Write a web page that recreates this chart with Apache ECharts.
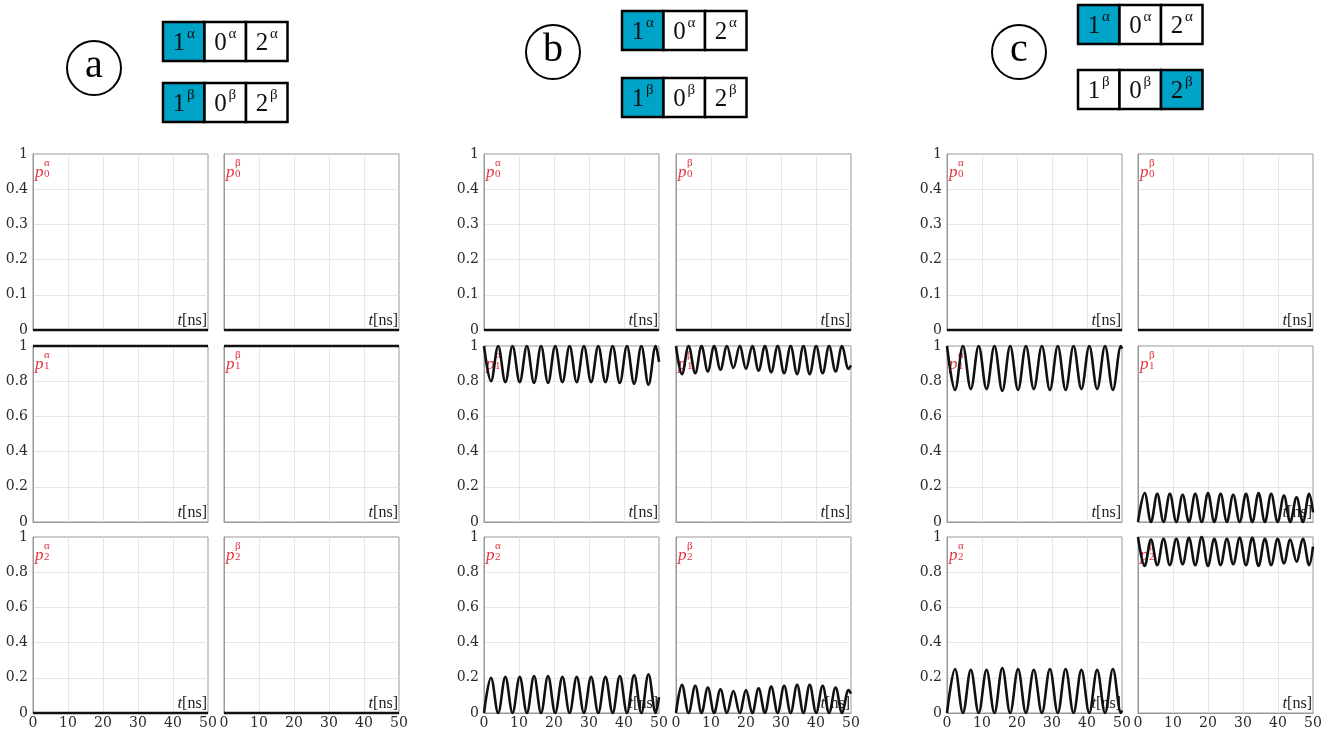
<!DOCTYPE html>
<html><head><meta charset="utf-8">
<script src="https://cdn.jsdelivr.net/npm/echarts@6/dist/echarts.min.js"></script>
<style>html,body{margin:0;padding:0;background:#fff}#c{width:1340px;height:736px}</style>
</head><body><div id="c"></div>
<script>
// ---- tick labels ----
const timeTicks = ['0','10','20','30','40','50'];
const row1Ticks = ['0','0.1','0.2','0.3','0.4','1'];
const rowTicks  = ['0','0.2','0.4','0.6','0.8','1'];

// ---- series data: [t (ns), probability] at extrema ----
const flatZero = [[0,0],[50,0]];
const flatOne  = [[0,1],[50,1]];

const b_p1a = [[0,1],[2.0,0.80],[4.05,1],[6.1,0.795],[8.15,1],[10.2,0.795],[12.25,1],[14.3,0.79],[16.3,1],[18.3,0.79],[20.35,1],[22.4,0.795],[24.45,1],[26.5,0.795],[28.55,1],[30.6,0.795],[32.65,1],[34.7,0.795],[36.75,1],[38.8,0.79],[40.85,1],[42.9,0.785],[44.95,1],[47.0,0.78],[49.05,1],[50,0.91]];
const b_p2a = [[0,0],[2.0,0.20],[4.05,0],[6.1,0.205],[8.15,0],[10.2,0.205],[12.25,0],[14.3,0.21],[16.3,0],[18.3,0.21],[20.35,0],[22.4,0.205],[24.45,0],[26.5,0.205],[28.55,0],[30.6,0.205],[32.65,0],[34.7,0.205],[36.75,0],[38.8,0.21],[40.85,0],[42.9,0.215],[44.95,0],[47.0,0.22],[49.05,0],[50,0.09]];
const b_p1b = [[0,1],[1.7,0.84],[3.6,1],[5.5,0.845],[7.3,1],[9.1,0.855],[10.9,1],[12.7,0.865],[14.55,1],[16.4,0.875],[18.2,1],[20.0,0.87],[21.8,1],[23.6,0.86],[25.4,1],[27.2,0.85],[29.05,1],[30.9,0.845],[32.75,1],[34.6,0.84],[36.4,1],[38.2,0.84],[40.05,1],[41.9,0.845],[43.75,1],[45.6,0.855],[47.45,1],[49.3,0.87],[50,0.89]];
const b_p2b = [[0,0],[1.7,0.16],[3.6,0],[5.5,0.155],[7.3,0],[9.1,0.145],[10.9,0],[12.7,0.135],[14.55,0],[16.4,0.125],[18.2,0],[20.0,0.13],[21.8,0],[23.6,0.14],[25.4,0],[27.2,0.15],[29.05,0],[30.9,0.155],[32.75,0],[34.6,0.16],[36.4,0],[38.2,0.16],[40.05,0],[41.9,0.155],[43.75,0],[45.6,0.145],[47.45,0],[49.3,0.13],[50,0.11]];

const c_p1a = [[0,1],[2.3,0.75],[4.55,1],[6.8,0.755],[9.05,1],[11.3,0.755],[13.55,1],[15.8,0.745],[18.05,1],[20.3,0.75],[22.55,1],[24.8,0.755],[27.1,1],[29.4,0.75],[31.65,1],[33.9,0.75],[36.15,1],[38.4,0.755],[40.65,1],[42.9,0.755],[45.15,1],[47.4,0.75],[49.7,1],[50,0.985]];
const c_p2a = [[0,0],[2.3,0.25],[4.55,0],[6.8,0.245],[9.05,0],[11.3,0.245],[13.55,0],[15.8,0.255],[18.05,0],[20.3,0.25],[22.55,0],[24.8,0.245],[27.1,0],[29.4,0.25],[31.65,0],[33.9,0.25],[36.15,0],[38.4,0.245],[40.65,0],[42.9,0.245],[45.15,0],[47.4,0.25],[49.7,0],[50,0.015]];
const c_p1b = [[0,0],[1.9,0.165],[3.7,0],[5.5,0.16],[7.3,0],[9.1,0.16],[10.95,0],[12.75,0.155],[14.55,0],[16.35,0.16],[18.2,0],[20.0,0.165],[21.8,0],[23.6,0.16],[25.4,0],[27.2,0.155],[29.05,0],[30.85,0.16],[32.65,0],[34.45,0.165],[36.25,0],[38.05,0.16],[39.9,0],[41.7,0.15],[43.5,0],[45.3,0.14],[47.1,0],[48.9,0.16],[50,0.055]];
const c_p2b = [[0,1],[1.9,0.835],[3.7,0.985],[5.5,0.84],[7.3,0.99],[9.1,0.84],[10.95,0.99],[12.75,0.845],[14.55,0.995],[16.35,0.84],[18.2,1],[20.0,0.835],[21.8,0.99],[23.6,0.84],[25.4,0.99],[27.2,0.845],[29.05,0.995],[30.85,0.84],[32.65,0.995],[34.45,0.835],[36.25,0.99],[38.05,0.84],[39.9,0.99],[41.7,0.85],[43.5,0.985],[45.3,0.86],[47.1,0.99],[48.9,0.84],[50,0.945]];

// panel data: [group][row][side]
const panelData = [
  [[flatZero, flatZero], [flatOne, flatOne], [flatZero, flatZero]],
  [[flatZero, flatZero], [b_p1a, b_p1b], [b_p2a, b_p2b]],
  [[flatZero, flatZero], [c_p1a, c_p1b], [c_p2a, c_p2b]]
];
// occupation boxes: labels & which are filled
const boxDigits = ['1','0','2'];
const boxFilled = [
  [[true,false,false],[true,false,false]],
  [[true,false,false],[true,false,false]],
  [[true,false,false],[false,false,true]]
];
const groupLetters = ['a','b','c'];
const spinLetters = ['α','β'];

// ---- layout ----
const colLeft = [33, 224, 484, 676, 947, 1138];
const panelW = 175, panelH = 176;
const rowTop = [154, 346, 537];
const boxOrigin = [[163,22,83],[622,11,78],[1078,5,70]]; // x, top-row y, bottom-row y
const circles = [[94,68],[553,52],[1019,52]];
const boxW = 41.5, boxH = 39;

const serif = '"DejaVu Serif", serif';
const lserif = '"Liberation Serif", serif';
const red = '#e2323c';

const grids = [], xAxes = [], yAxes = [], series = [], graphics = [];
let idx = 0;
for (let g = 0; g < 3; g++) {
  for (let r = 0; r < 3; r++) {
    for (let s = 0; s < 2; s++) {
      const left = colLeft[g*2+s], top = rowTop[r];
      grids.push({left, top, width: panelW, height: panelH, show: true, borderColor: '#999', borderWidth: 1, backgroundColor: '#fff'});
      xAxes.push({
        gridIndex: idx, type: 'value', min: 0, max: 50, interval: 10,
        axisLine: {show: true, lineStyle: {color: '#999', width: 1}},
        axisTick: {show: false},
        axisLabel: {show: r === 2, margin: 3, fontFamily: serif, fontSize: 14, color: '#2a2a2a',
          formatter: v => timeTicks[Math.round(v/10)]},
        splitLine: {show: true, showMinLine: false, showMaxLine: false, lineStyle: {color: '#e6e6e6', width: 1}}
      });
      const ymax = r === 0 ? 0.5 : 1, yint = r === 0 ? 0.1 : 0.2;
      const tk = r === 0 ? row1Ticks : rowTicks;
      yAxes.push({
        gridIndex: idx, type: 'value', min: 0, max: ymax, interval: yint,
        axisLine: {show: true, lineStyle: {color: '#999', width: 1}},
        axisTick: {show: false},
        axisLabel: {show: s === 0, margin: 5, fontFamily: serif, fontSize: 14, color: '#2a2a2a',
          formatter: v => tk[Math.round(v/yint)]},
        splitLine: {show: true, showMinLine: false, showMaxLine: false, lineStyle: {color: '#e6e6e6', width: 1}}
      });
      series.push({
        type: 'line', xAxisIndex: idx, yAxisIndex: idx, data: panelData[g][r][s],
        smooth: 0.36, showSymbol: false, clip: false, silent: true, z: 5,
        lineStyle: {color: '#111', width: 2.6}
      });
      // red panel label p_r^{alpha/beta}
      graphics.push({type: 'text', left: left + 2, top: top + 10, z: 1,
        style: {text: 'p', font: 'italic 17px ' + lserif, fill: red}});
      graphics.push({type: 'text', left: left + 11, top: top + 4, z: 1,
        style: {text: spinLetters[s], font: '11px ' + lserif, fill: red}});
      graphics.push({type: 'text', left: left + 11, top: top + 15, z: 1,
        style: {text: String(r), font: '11px ' + lserif, fill: red}});
      // t[ns]
      graphics.push({type: 'text', z: 1, x: left + panelW - 1, y: top + panelH - 1,
        style: {text: '{t|t}{n|[ns]}', align: 'right', verticalAlign: 'bottom',
          rich: {t: {font: 'italic 17px ' + lserif, fill: '#222'}, n: {font: '16px ' + lserif, fill: '#222'}}}});
      idx++;
    }
  }
}
// circled letters and occupation boxes
for (let g = 0; g < 3; g++) {
  const [cx, cy] = circles[g];
  graphics.push({type: 'circle', shape: {cx, cy, r: 27}, style: {fill: '#fff', stroke: '#000', lineWidth: 2}});
  graphics.push({type: 'text', x: cx, y: cy - 2, style: {text: groupLetters[g], font: '40px ' + lserif, fill: '#000', align: 'center', verticalAlign: 'middle'}});
  const [bx, y1, y2] = boxOrigin[g];
  [y1, y2].forEach((by, rowI) => {
    for (let k = 0; k < 3; k++) {
      const x = bx + k * boxW;
      graphics.push({type: 'rect', shape: {x, y: by, width: boxW, height: boxH},
        style: {fill: boxFilled[g][rowI][k] ? '#00a3c8' : '#fff', stroke: '#000', lineWidth: 2.5}});
      graphics.push({type: 'text', x: x + 16, y: by + boxH/2 + 2, z: 10,
        style: {text: boxDigits[k], font: '25px ' + lserif, fill: '#111', align: 'center', verticalAlign: 'middle'}});
      graphics.push({type: 'text', x: x + 24, y: by + 5, z: 10,
        style: {text: spinLetters[rowI], font: '15px ' + lserif, fill: '#111', align: 'left', verticalAlign: 'top'}});
    }
  });
}

const chart = echarts.init(document.getElementById('c'), null, {renderer: 'canvas'});
chart.setOption({
  animation: false,
  grid: grids, xAxis: xAxes, yAxis: yAxes, series,
  graphic: {elements: graphics}
});
</script></body></html>
